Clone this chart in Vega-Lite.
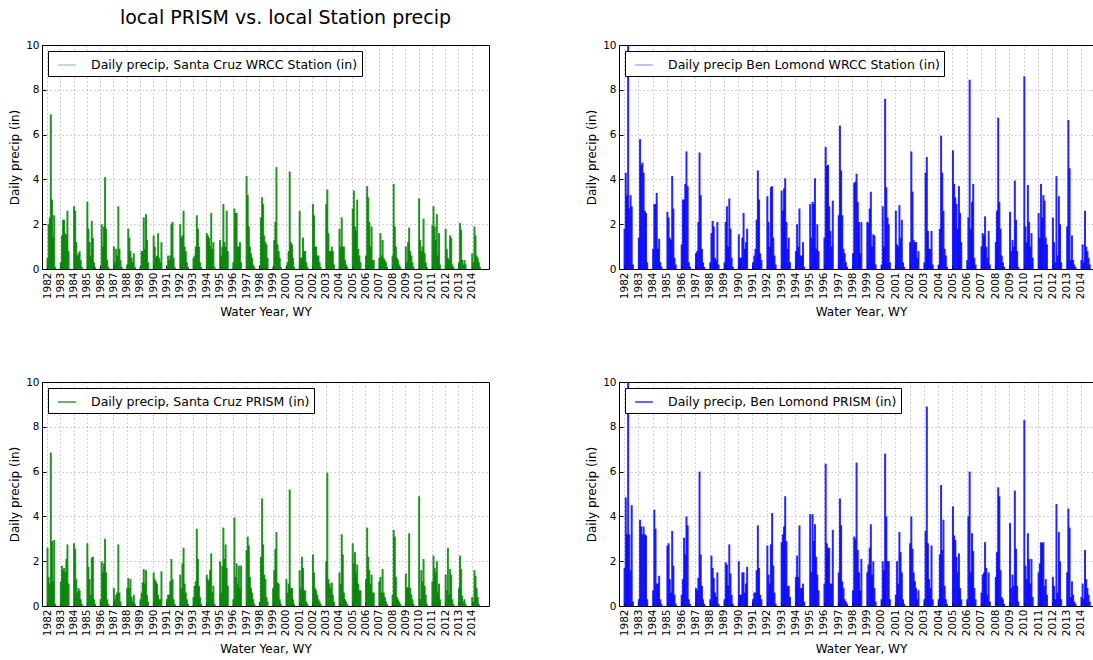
{
  "$schema": "https://vega.github.io/schema/vega-lite/v6.json",
  "padding": {"left": 8, "top": 8, "right": 0, "bottom": 0},
  "background": "white",
  "config": {
    "font": "DejaVu Sans",
    "view": {"stroke": "black", "strokeWidth": 1},
    "axis": {
      "labelFont": "DejaVu Sans", "labelFontSize": 10.5, "labelColor": "#000",
      "titleFont": "DejaVu Sans", "titleFontSize": 12, "titleFontWeight": "normal", "titleColor": "#000",
      "domain": false, "tickColor": "#000", "tickSize": -4, "labelPadding": 7,
      "grid": true, "gridColor": "#000", "gridDash": [1, 3], "gridOpacity": 0.45, "gridWidth": 0.8,
      "labelOverlap": false, "labelFlush": false
    },
    "axisX": {"titlePadding": 8},
    "legend": {
      "orient": "top-left", "offset": 6, "padding": 4, "strokeColor": "#000", "fillColor": "white",
      "symbolType": "stroke", "symbolSize": 324, "symbolStrokeWidth": 1.2, "symbolOffset": 5,
      "labelFont": "DejaVu Sans", "labelFontSize": 12.5, "labelColor": "#000", "labelOffset": 14, "labelLimit": 600,
      "title": null
    },
    "title": {"font": "DejaVu Sans", "fontSize": 19, "fontWeight": "normal", "color": "#000", "offset": 12}
  },
  "datasets": {
    "precip": [
      {"t":1982.04,"a":0.5,"b":1.8,"c":2.6,"d":1.7},{"t":1982.125,"a":2.0,"b":4.3,"c":1.3,"d":4.85},{"t":1982.21,"a":2.3,"b":3.3,"c":1.0,"d":3.2},{"t":1982.29,"a":6.9,"b":10.5,"c":6.85,"d":10.5},{"t":1982.375,"a":3.1,"b":2.7,"c":2.9,"d":3.2},{"t":1982.46,"a":1.4,"b":3.3,"c":1.1,"d":1.6},{"t":1982.54,"a":2.4,"b":2.8,"c":2.95,"d":4.5},{"t":1982.625,"a":0.1,"b":0.2,"c":0.1,"d":0.2},
      {"t":1983.04,"a":0.3,"b":1.4,"c":1.1,"d":0.3},{"t":1983.125,"a":1.5,"b":5.8,"c":1.8,"d":3.85},{"t":1983.21,"a":2.2,"b":4.65,"c":1.6,"d":3.55},{"t":1983.29,"a":2.2,"b":4.75,"c":1.7,"d":3.2},{"t":1983.375,"a":1.6,"b":4.3,"c":1.5,"d":3.55},{"t":1983.46,"a":1.5,"b":2.6,"c":2.1,"d":3.2},{"t":1983.54,"a":2.6,"b":2.5,"c":2.75,"d":3.15},{"t":1983.625,"a":0.8,"b":0.3,"c":1.0,"d":0.3},
      {"t":1984.04,"a":2.8,"b":0.9,"c":2.8,"d":0.7},{"t":1984.125,"a":2.6,"b":2.9,"c":2.55,"d":4.3},{"t":1984.21,"a":1.2,"b":2.9,"c":1.2,"d":3.45},{"t":1984.29,"a":0.6,"b":3.4,"c":0.6,"d":1.0},{"t":1984.375,"a":0.7,"b":0.9,"c":0.8,"d":1.0},{"t":1984.46,"a":0.8,"b":1.35,"c":0.7,"d":1.35},{"t":1984.54,"a":0.4,"b":0.3,"c":0.3,"d":0.3},{"t":1984.625,"a":0.1,"b":0.1,"c":0.1,"d":0.1},
      {"t":1985.04,"a":3.0,"b":2.55,"c":2.8,"d":2.7},{"t":1985.125,"a":1.8,"b":2.3,"c":1.75,"d":2.8},{"t":1985.21,"a":1.2,"b":1.4,"c":1.2,"d":1.2},{"t":1985.29,"a":0.6,"b":1.3,"c":0.5,"d":0.6},{"t":1985.375,"a":2.15,"b":4.15,"c":2.15,"d":3.35},{"t":1985.46,"a":1.4,"b":2.7,"c":2.2,"d":1.8},{"t":1985.54,"a":0.3,"b":0.5,"c":0.3,"d":0.5},{"t":1985.625,"a":0.1,"b":0.2,"c":0.1,"d":0.1},
      {"t":1986.04,"a":0.1,"b":1.1,"c":0.3,"d":0.5},{"t":1986.125,"a":2.0,"b":3.1,"c":2.0,"d":1.2},{"t":1986.21,"a":1.0,"b":3.1,"c":1.5,"d":3.05},{"t":1986.29,"a":1.9,"b":3.8,"c":1.9,"d":2.3},{"t":1986.375,"a":4.1,"b":5.25,"c":3.0,"d":4.0},{"t":1986.46,"a":1.8,"b":3.7,"c":1.5,"d":3.6},{"t":1986.54,"a":0.4,"b":0.3,"c":0.3,"d":0.3},{"t":1986.625,"a":0.1,"b":0.1,"c":0.1,"d":0.1},
      {"t":1987.04,"a":1.0,"b":0.7,"c":0.8,"d":0.8},{"t":1987.125,"a":0.3,"b":0.8,"c":0.3,"d":0.7},{"t":1987.21,"a":0.9,"b":2.1,"c":0.5,"d":1.25},{"t":1987.29,"a":0.6,"b":5.2,"c":0.6,"d":6.0},{"t":1987.375,"a":2.8,"b":3.3,"c":2.75,"d":2.3},{"t":1987.46,"a":0.9,"b":0.9,"c":0.6,"d":0.9},{"t":1987.54,"a":0.4,"b":0.3,"c":0.2,"d":0.3},{"t":1987.625,"a":0.1,"b":0.1,"c":0.0,"d":0.1},
      {"t":1988.04,"a":0.2,"b":0.3,"c":0.8,"d":0.3},{"t":1988.125,"a":1.8,"b":1.6,"c":1.25,"d":2.25},{"t":1988.21,"a":1.4,"b":2.15,"c":0.8,"d":1.7},{"t":1988.29,"a":0.8,"b":1.9,"c":1.2,"d":1.25},{"t":1988.375,"a":0.5,"b":0.5,"c":0.4,"d":0.6},{"t":1988.46,"a":0.3,"b":0.4,"c":0.2,"d":0.4},{"t":1988.54,"a":0.7,"b":2.1,"c":0.5,"d":1.5},{"t":1988.625,"a":0.1,"b":0.2,"c":0.1,"d":0.1},
      {"t":1989.04,"a":0.1,"b":0.3,"c":0.3,"d":0.3},{"t":1989.125,"a":0.8,"b":2.1,"c":0.6,"d":1.95},{"t":1989.21,"a":0.8,"b":2.8,"c":1.05,"d":1.85},{"t":1989.29,"a":2.3,"b":1.0,"c":1.65,"d":0.9},{"t":1989.375,"a":0.9,"b":3.15,"c":1.0,"d":2.75},{"t":1989.46,"a":2.45,"b":1.8,"c":1.6,"d":1.45},{"t":1989.54,"a":1.3,"b":0.5,"c":0.5,"d":0.5},{"t":1989.625,"a":0.3,"b":0.1,"c":0.2,"d":0.1},
      {"t":1990.04,"a":1.5,"b":1.55,"c":1.5,"d":2.0},{"t":1990.125,"a":1.0,"b":0.5,"c":1.2,"d":0.5},{"t":1990.21,"a":0.5,"b":0.5,"c":1.1,"d":0.5},{"t":1990.29,"a":0.6,"b":1.4,"c":1.0,"d":1.5},{"t":1990.375,"a":1.6,"b":2.5,"c":0.5,"d":1.5},{"t":1990.46,"a":0.5,"b":0.9,"c":0.3,"d":0.6},{"t":1990.54,"a":0.3,"b":1.2,"c":0.3,"d":1.0},{"t":1990.625,"a":1.2,"b":1.8,"c":1.55,"d":1.75},
      {"t":1991.04,"a":0.1,"b":0.3,"c":0.3,"d":0.3},{"t":1991.125,"a":0.6,"b":0.6,"c":0.5,"d":0.6},{"t":1991.21,"a":0.4,"b":0.9,"c":0.5,"d":0.6},{"t":1991.29,"a":0.6,"b":2.2,"c":1.1,"d":1.6},{"t":1991.375,"a":2.0,"b":4.4,"c":2.1,"d":3.6},{"t":1991.46,"a":2.1,"b":3.1,"c":1.2,"d":1.7},{"t":1991.54,"a":0.5,"b":0.7,"c":0.3,"d":0.5},{"t":1991.625,"a":0.1,"b":0.4,"c":0.1,"d":0.3},
      {"t":1992.04,"a":2.0,"b":3.25,"c":1.4,"d":2.7},{"t":1992.125,"a":1.4,"b":2.1,"c":0.8,"d":1.4},{"t":1992.21,"a":1.5,"b":1.0,"c":1.9,"d":1.0},{"t":1992.29,"a":2.6,"b":3.65,"c":2.6,"d":2.75},{"t":1992.375,"a":1.0,"b":3.7,"c":1.0,"d":4.15},{"t":1992.46,"a":0.8,"b":1.4,"c":0.6,"d":1.8},{"t":1992.54,"a":0.3,"b":0.6,"c":0.3,"d":0.6},{"t":1992.625,"a":0.1,"b":0.2,"c":0.1,"d":0.1},
      {"t":1993.04,"a":0.5,"b":3.5,"c":0.4,"d":2.85},{"t":1993.125,"a":0.6,"b":2.6,"c":0.9,"d":3.2},{"t":1993.21,"a":1.0,"b":3.6,"c":1.1,"d":3.55},{"t":1993.29,"a":2.4,"b":4.05,"c":3.45,"d":4.9},{"t":1993.375,"a":1.8,"b":2.1,"c":2.1,"d":2.9},{"t":1993.46,"a":1.0,"b":0.9,"c":0.9,"d":0.9},{"t":1993.54,"a":0.3,"b":1.4,"c":0.4,"d":0.9},{"t":1993.625,"a":0.1,"b":0.3,"c":0.1,"d":0.4},
      {"t":1994.04,"a":1.6,"b":0.8,"c":1.4,"d":1.3},{"t":1994.125,"a":1.5,"b":2.0,"c":1.2,"d":2.25},{"t":1994.21,"a":1.4,"b":1.0,"c":1.1,"d":1.3},{"t":1994.29,"a":1.0,"b":2.7,"c":1.6,"d":3.6},{"t":1994.375,"a":2.5,"b":0.6,"c":2.35,"d":0.8},{"t":1994.46,"a":0.9,"b":0.6,"c":0.6,"d":0.8},{"t":1994.54,"a":1.2,"b":1.2,"c":0.9,"d":1.0},{"t":1994.625,"a":0.1,"b":0.1,"c":0.1,"d":0.2},
      {"t":1995.04,"a":1.3,"b":2.9,"c":2.0,"d":4.1},{"t":1995.125,"a":0.6,"b":1.4,"c":0.6,"d":1.5},{"t":1995.21,"a":1.0,"b":3.0,"c":1.8,"d":4.1},{"t":1995.29,"a":2.9,"b":2.9,"c":3.5,"d":2.9},{"t":1995.375,"a":1.2,"b":4.05,"c":2.1,"d":3.65},{"t":1995.46,"a":1.0,"b":0.9,"c":2.75,"d":2.2},{"t":1995.54,"a":2.6,"b":2.0,"c":1.7,"d":1.4},{"t":1995.625,"a":0.8,"b":0.8,"c":0.9,"d":0.7},
      {"t":1996.04,"a":0.3,"b":1.4,"c":0.3,"d":1.0},{"t":1996.125,"a":2.7,"b":5.45,"c":3.95,"d":6.35},{"t":1996.21,"a":2.5,"b":4.6,"c":1.3,"d":2.8},{"t":1996.29,"a":2.5,"b":4.65,"c":1.9,"d":2.6},{"t":1996.375,"a":1.0,"b":2.8,"c":1.0,"d":2.6},{"t":1996.46,"a":1.0,"b":1.7,"c":1.8,"d":1.0},{"t":1996.54,"a":1.2,"b":1.0,"c":0.8,"d":1.0},{"t":1996.625,"a":0.3,"b":3.05,"c":1.8,"d":3.4},
      {"t":1997.04,"a":4.15,"b":2.4,"c":2.5,"d":1.5},{"t":1997.125,"a":3.3,"b":6.4,"c":3.1,"d":4.8},{"t":1997.21,"a":1.9,"b":4.4,"c":2.7,"d":3.6},{"t":1997.29,"a":1.0,"b":2.4,"c":1.3,"d":1.1},{"t":1997.375,"a":0.7,"b":0.9,"c":0.8,"d":0.8},{"t":1997.46,"a":0.5,"b":0.7,"c":0.6,"d":0.3},{"t":1997.54,"a":0.2,"b":0.3,"c":0.3,"d":0.2},{"t":1997.625,"a":0.1,"b":0.1,"c":0.1,"d":0.1},
      {"t":1998.04,"a":0.1,"b":0.7,"c":0.2,"d":0.7},{"t":1998.125,"a":2.3,"b":3.85,"c":2.2,"d":3.1},{"t":1998.21,"a":3.2,"b":3.9,"c":4.8,"d":3.0},{"t":1998.29,"a":2.9,"b":4.25,"c":2.75,"d":6.4},{"t":1998.375,"a":1.5,"b":3.0,"c":1.4,"d":2.5},{"t":1998.46,"a":1.2,"b":2.1,"c":1.2,"d":1.5},{"t":1998.54,"a":1.1,"b":0.7,"c":0.4,"d":0.7},{"t":1998.625,"a":0.5,"b":2.1,"c":0.2,"d":2.1},
      {"t":1999.04,"a":0.1,"b":2.1,"c":0.8,"d":1.5},{"t":1999.125,"a":1.3,"b":2.05,"c":1.6,"d":1.85},{"t":1999.21,"a":2.1,"b":2.7,"c":2.55,"d":2.6},{"t":1999.29,"a":4.55,"b":3.45,"c":3.3,"d":3.65},{"t":1999.375,"a":1.1,"b":1.0,"c":1.05,"d":1.4},{"t":1999.46,"a":0.8,"b":1.55,"c":1.0,"d":2.0},{"t":1999.54,"a":0.5,"b":1.5,"c":0.3,"d":0.8},{"t":1999.625,"a":0.1,"b":0.2,"c":0.1,"d":0.2},
      {"t":2000.04,"a":0.1,"b":0.2,"c":1.2,"d":0.3},{"t":2000.125,"a":0.3,"b":2.8,"c":0.6,"d":2.0},{"t":2000.21,"a":0.8,"b":1.0,"c":1.0,"d":1.6},{"t":2000.29,"a":4.35,"b":7.6,"c":5.2,"d":6.8},{"t":2000.375,"a":1.2,"b":3.65,"c":0.8,"d":4.0},{"t":2000.46,"a":1.1,"b":2.3,"c":0.8,"d":2.0},{"t":2000.54,"a":0.5,"b":2.0,"c":0.3,"d":2.0},{"t":2000.625,"a":0.1,"b":0.3,"c":0.1,"d":0.3},
      {"t":2001.04,"a":2.6,"b":2.6,"c":1.6,"d":0.5},{"t":2001.125,"a":0.5,"b":1.1,"c":0.8,"d":2.0},{"t":2001.21,"a":0.5,"b":1.0,"c":2.2,"d":1.0},{"t":2001.29,"a":1.4,"b":2.85,"c":1.7,"d":3.3},{"t":2001.375,"a":0.8,"b":1.4,"c":0.7,"d":2.4},{"t":2001.46,"a":0.8,"b":2.2,"c":0.7,"d":1.5},{"t":2001.54,"a":0.3,"b":0.3,"c":0.2,"d":0.3},{"t":2001.625,"a":0.1,"b":0.1,"c":0.1,"d":0.1},
      {"t":2002.04,"a":2.9,"b":1.2,"c":2.3,"d":2.8},{"t":2002.125,"a":2.4,"b":5.25,"c":1.5,"d":4.0},{"t":2002.21,"a":1.0,"b":3.45,"c":0.8,"d":2.55},{"t":2002.29,"a":1.0,"b":1.3,"c":0.7,"d":1.5},{"t":2002.375,"a":0.6,"b":1.2,"c":0.5,"d":1.1},{"t":2002.46,"a":0.6,"b":1.2,"c":0.3,"d":0.8},{"t":2002.54,"a":0.3,"b":0.5,"c":0.2,"d":0.3},{"t":2002.625,"a":0.1,"b":0.8,"c":0.1,"d":0.7},
      {"t":2003.04,"a":2.9,"b":0.3,"c":2.0,"d":0.3},{"t":2003.125,"a":3.55,"b":4.3,"c":5.95,"d":3.35},{"t":2003.21,"a":1.6,"b":5.0,"c":1.2,"d":8.9},{"t":2003.29,"a":0.8,"b":1.7,"c":1.0,"d":2.8},{"t":2003.375,"a":0.8,"b":0.9,"c":0.8,"d":1.2},{"t":2003.46,"a":1.0,"b":0.9,"c":1.05,"d":0.8},{"t":2003.54,"a":0.8,"b":1.7,"c":0.5,"d":2.7},{"t":2003.625,"a":0.2,"b":0.2,"c":0.2,"d":0.3},
      {"t":2004.04,"a":1.8,"b":0.2,"c":1.5,"d":0.3},{"t":2004.125,"a":1.0,"b":1.8,"c":1.0,"d":2.3},{"t":2004.21,"a":2.3,"b":5.95,"c":3.2,"d":5.4},{"t":2004.29,"a":1.0,"b":4.3,"c":2.3,"d":2.5},{"t":2004.375,"a":1.0,"b":2.6,"c":0.6,"d":3.85},{"t":2004.46,"a":0.4,"b":0.9,"c":0.3,"d":0.9},{"t":2004.54,"a":0.2,"b":0.6,"c":0.2,"d":0.3},{"t":2004.625,"a":0.1,"b":0.1,"c":0.1,"d":0.1},
      {"t":2005.04,"a":2.7,"b":5.3,"c":2.8,"d":4.45},{"t":2005.125,"a":3.5,"b":3.8,"c":1.9,"d":3.15},{"t":2005.21,"a":1.9,"b":3.2,"c":2.4,"d":2.95},{"t":2005.29,"a":1.7,"b":2.9,"c":1.5,"d":2.2},{"t":2005.375,"a":3.1,"b":1.8,"c":1.85,"d":1.5},{"t":2005.46,"a":0.9,"b":3.7,"c":1.0,"d":2.35},{"t":2005.54,"a":0.6,"b":2.5,"c":0.7,"d":0.8},{"t":2005.625,"a":0.3,"b":1.2,"c":0.7,"d":0.3},
      {"t":2006.04,"a":0.6,"b":0.4,"c":1.2,"d":0.3},{"t":2006.125,"a":3.7,"b":2.3,"c":3.5,"d":4.0},{"t":2006.21,"a":3.2,"b":8.45,"c":2.2,"d":6.0},{"t":2006.29,"a":2.1,"b":1.8,"c":1.6,"d":1.5},{"t":2006.375,"a":1.0,"b":3.0,"c":1.0,"d":3.25},{"t":2006.46,"a":1.9,"b":3.8,"c":1.4,"d":2.45},{"t":2006.54,"a":0.4,"b":0.5,"c":0.6,"d":0.8},{"t":2006.625,"a":0.4,"b":0.2,"c":0.6,"d":0.3},
      {"t":2007.04,"a":0.5,"b":1.0,"c":1.1,"d":0.6},{"t":2007.125,"a":1.6,"b":1.6,"c":1.3,"d":1.4},{"t":2007.21,"a":0.6,"b":1.5,"c":0.6,"d":1.5},{"t":2007.29,"a":1.3,"b":2.35,"c":1.65,"d":2.85},{"t":2007.375,"a":0.5,"b":1.0,"c":0.6,"d":1.7},{"t":2007.46,"a":0.4,"b":0.5,"c":0.4,"d":0.5},{"t":2007.54,"a":0.3,"b":1.7,"c":0.2,"d":1.5},{"t":2007.625,"a":0.1,"b":0.2,"c":0.1,"d":0.2},
      {"t":2008.04,"a":0.6,"b":1.2,"c":0.5,"d":1.3},{"t":2008.125,"a":3.8,"b":2.6,"c":3.4,"d":2.4},{"t":2008.21,"a":1.9,"b":6.75,"c":3.1,"d":5.3},{"t":2008.29,"a":1.0,"b":3.0,"c":1.3,"d":4.9},{"t":2008.375,"a":0.5,"b":1.8,"c":0.4,"d":1.6},{"t":2008.46,"a":0.4,"b":0.6,"c":0.3,"d":0.4},{"t":2008.54,"a":0.2,"b":0.3,"c":0.2,"d":0.3},{"t":2008.625,"a":0.1,"b":0.1,"c":0.1,"d":0.1},
      {"t":2009.04,"a":1.0,"b":2.55,"c":1.45,"d":3.7},{"t":2009.125,"a":0.3,"b":0.8,"c":0.8,"d":0.8},{"t":2009.21,"a":1.2,"b":1.3,"c":0.85,"d":1.4},{"t":2009.29,"a":1.85,"b":1.0,"c":3.25,"d":0.9},{"t":2009.375,"a":0.8,"b":3.95,"c":0.8,"d":5.15},{"t":2009.46,"a":0.6,"b":2.2,"c":0.5,"d":2.55},{"t":2009.54,"a":0.3,"b":0.8,"c":0.3,"d":0.9},{"t":2009.625,"a":0.1,"b":0.1,"c":0.1,"d":0.2},
      {"t":2010.04,"a":3.15,"b":8.6,"c":4.9,"d":8.3},{"t":2010.125,"a":1.3,"b":1.9,"c":0.3,"d":1.8},{"t":2010.21,"a":0.8,"b":1.2,"c":1.6,"d":1.2},{"t":2010.29,"a":1.0,"b":3.75,"c":1.1,"d":3.25},{"t":2010.375,"a":2.25,"b":2.1,"c":2.1,"d":2.1},{"t":2010.46,"a":0.7,"b":1.0,"c":0.9,"d":1.0},{"t":2010.54,"a":0.3,"b":1.6,"c":0.5,"d":2.1},{"t":2010.625,"a":0.1,"b":0.5,"c":0.1,"d":0.4},
      {"t":2011.04,"a":1.95,"b":2.5,"c":1.1,"d":1.5},{"t":2011.125,"a":2.8,"b":1.4,"c":2.25,"d":1.9},{"t":2011.21,"a":1.9,"b":3.8,"c":1.7,"d":2.85},{"t":2011.29,"a":1.3,"b":2.3,"c":1.5,"d":2.8},{"t":2011.375,"a":2.45,"b":3.3,"c":2.0,"d":2.85},{"t":2011.46,"a":0.6,"b":3.05,"c":0.6,"d":0.9},{"t":2011.54,"a":1.6,"b":1.4,"c":1.0,"d":1.2},{"t":2011.625,"a":0.2,"b":1.1,"c":0.3,"d":0.5},
      {"t":2012.04,"a":1.8,"b":2.3,"c":1.4,"d":1.3},{"t":2012.125,"a":0.9,"b":1.2,"c":0.7,"d":0.9},{"t":2012.21,"a":0.5,"b":0.3,"c":2.6,"d":0.3},{"t":2012.29,"a":0.4,"b":4.15,"c":0.5,"d":4.55},{"t":2012.375,"a":1.5,"b":0.6,"c":1.65,"d":0.6},{"t":2012.46,"a":1.4,"b":3.25,"c":1.4,"d":3.3},{"t":2012.54,"a":0.2,"b":2.0,"c":0.3,"d":2.0},{"t":2012.625,"a":0.1,"b":0.3,"c":0.1,"d":0.3},
      {"t":2013.04,"a":0.3,"b":1.9,"c":0.8,"d":1.5},{"t":2013.125,"a":2.05,"b":6.65,"c":2.25,"d":4.35},{"t":2013.21,"a":1.75,"b":4.5,"c":1.65,"d":3.5},{"t":2013.29,"a":0.4,"b":0.4,"c":0.45,"d":0.4},{"t":2013.375,"a":0.2,"b":1.5,"c":0.2,"d":1.1},{"t":2013.46,"a":0.4,"b":0.4,"c":0.3,"d":0.5},{"t":2013.54,"a":0.2,"b":0.2,"c":0.1,"d":0.2},{"t":2013.625,"a":0.0,"b":0.1,"c":0.0,"d":0.1},
      {"t":2014.04,"a":0.7,"b":0.4,"c":0.4,"d":0.4},{"t":2014.125,"a":0.3,"b":1.1,"c":0.2,"d":1.0},{"t":2014.21,"a":1.9,"b":0.3,"c":1.6,"d":0.3},{"t":2014.29,"a":1.5,"b":2.6,"c":1.35,"d":2.5},{"t":2014.375,"a":0.6,"b":1.0,"c":0.8,"d":1.2},{"t":2014.46,"a":0.5,"b":0.8,"c":0.4,"d":0.8},{"t":2014.54,"a":0.3,"b":0.5,"c":0.1,"d":0.5},{"t":2014.625,"a":0.1,"b":0.2,"c":0.0,"d":0.2}
    ]
  },
  "columns": 2,
  "align": "each",
  "spacing": {"row": 57, "column": 95},
  "resolve": {"scale": {"color": "independent", "x": "independent", "y": "independent"}, "legend": {"color": "independent"}},
  "concat": [
    {
      "title": {"text": "local PRISM vs. local Station precip", "dx": 20},
      "width": 447, "height": 224,
      "data": {"name": "precip"},
      "mark": {"type": "bar", "width": 2.0, "opacity": 0.85, "clip": true},
      "encoding": {
        "x": {"field": "t", "type": "quantitative", "scale": {"domain": [1982, 2014.93], "nice": false, "zero": false},
              "axis": {"title": "Water Year, WY", "values": [1982,1983,1984,1985,1986,1987,1988,1989,1990,1991,1992,1993,1994,1995,1996,1997,1998,1999,2000,2001,2002,2003,2004,2005,2006,2007,2008,2009,2010,2011,2012,2013,2014], "format": "d", "labelAngle": 270}},
        "y": {"field": "a", "type": "quantitative", "scale": {"domain": [0, 10], "nice": false},
              "axis": {"title": "Daily precip (in)", "values": [0, 2, 4, 6, 8, 10]}},
        "color": {"datum": "Daily precip, Santa Cruz WRCC Station (in)", "type": "nominal", "scale": {"range": ["#008000"]},
                  "legend": {"symbolStrokeColor": "#008000", "symbolOpacity": 0.4}}
      }
    },
    {
      "title": {"text": " "},
      "width": 484, "height": 224,
      "data": {"name": "precip"},
      "mark": {"type": "bar", "width": 2.0, "opacity": 0.85, "clip": true},
      "encoding": {
        "x": {"field": "t", "type": "quantitative", "scale": {"domain": [1982, 2015.2], "nice": false, "zero": false},
              "axis": {"title": "Water Year, WY", "values": [1982,1983,1984,1985,1986,1987,1988,1989,1990,1991,1992,1993,1994,1995,1996,1997,1998,1999,2000,2001,2002,2003,2004,2005,2006,2007,2008,2009,2010,2011,2012,2013,2014], "format": "d", "labelAngle": 270}},
        "y": {"field": "b", "type": "quantitative", "scale": {"domain": [0, 10], "nice": false},
              "axis": {"title": "Daily precip (in)", "values": [0, 2, 4, 6, 8, 10]}},
        "color": {"datum": "Daily precip Ben Lomond WRCC Station (in)", "type": "nominal", "scale": {"range": ["#0000ff"]},
                  "legend": {"symbolStrokeColor": "#0000ff", "symbolOpacity": 0.4}}
      }
    },
    {
      "width": 447, "height": 224,
      "data": {"name": "precip"},
      "mark": {"type": "bar", "width": 2.0, "opacity": 0.85, "clip": true},
      "encoding": {
        "x": {"field": "t", "type": "quantitative", "scale": {"domain": [1982, 2014.93], "nice": false, "zero": false},
              "axis": {"title": "Water Year, WY", "values": [1982,1983,1984,1985,1986,1987,1988,1989,1990,1991,1992,1993,1994,1995,1996,1997,1998,1999,2000,2001,2002,2003,2004,2005,2006,2007,2008,2009,2010,2011,2012,2013,2014], "format": "d", "labelAngle": 270}},
        "y": {"field": "c", "type": "quantitative", "scale": {"domain": [0, 10], "nice": false},
              "axis": {"title": "Daily precip (in)", "values": [0, 2, 4, 6, 8, 10]}},
        "color": {"datum": "Daily precip, Santa Cruz PRISM (in)", "type": "nominal", "scale": {"range": ["#008000"]},
                  "legend": {"symbolStrokeColor": "#008000", "symbolOpacity": 1}}
      }
    },
    {
      "width": 484, "height": 224,
      "data": {"name": "precip"},
      "mark": {"type": "bar", "width": 2.0, "opacity": 0.85, "clip": true},
      "encoding": {
        "x": {"field": "t", "type": "quantitative", "scale": {"domain": [1982, 2015.2], "nice": false, "zero": false},
              "axis": {"title": "Water Year, WY", "values": [1982,1983,1984,1985,1986,1987,1988,1989,1990,1991,1992,1993,1994,1995,1996,1997,1998,1999,2000,2001,2002,2003,2004,2005,2006,2007,2008,2009,2010,2011,2012,2013,2014], "format": "d", "labelAngle": 270}},
        "y": {"field": "d", "type": "quantitative", "scale": {"domain": [0, 10], "nice": false},
              "axis": {"title": "Daily precip (in)", "values": [0, 2, 4, 6, 8, 10]}},
        "color": {"datum": "Daily precip, Ben Lomond PRISM (in)", "type": "nominal", "scale": {"range": ["#0000ff"]},
                  "legend": {"symbolStrokeColor": "#0000ff", "symbolOpacity": 1}}
      }
    }
  ]
}
